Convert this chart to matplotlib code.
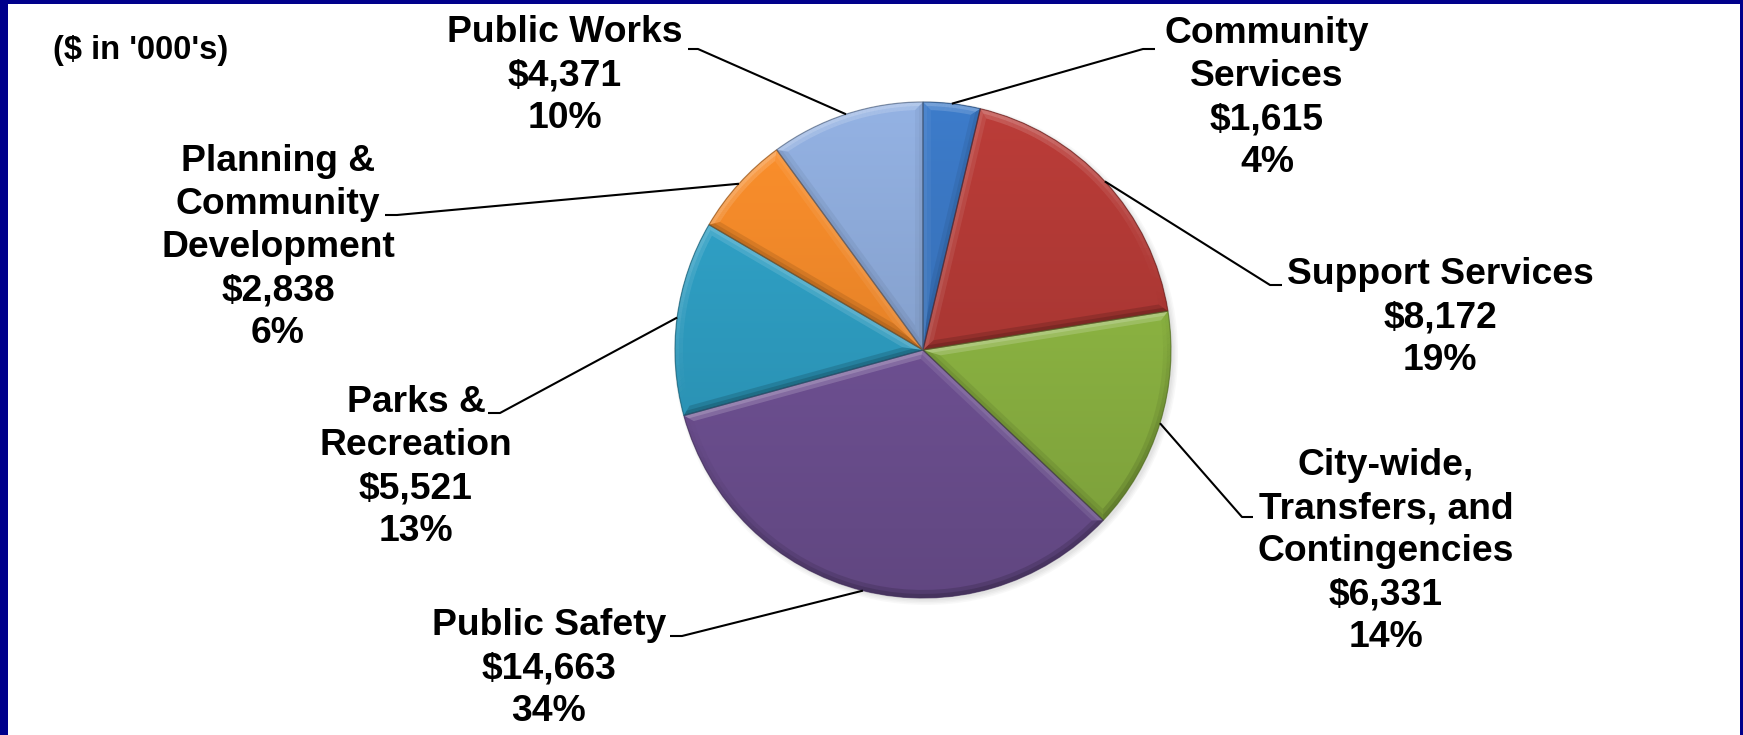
import numpy as np
import matplotlib
matplotlib.use("Agg")
import matplotlib.pyplot as plt
from matplotlib.patches import Wedge, Circle, Rectangle
from matplotlib.collections import PolyCollection
from matplotlib.colors import to_rgb

# ---- data -------------------------------------------------------------
categories = [
    "Community\nServices",
    "Support Services",
    "City-wide,\nTransfers, and\nContingencies",
    "Public Safety",
    "Parks &\nRecreation",
    "Planning &\nCommunity\nDevelopment",
    "Public Works",
]
amounts = [1615, 8172, 6331, 14663, 5521, 2838, 4371]   # $ in '000's
pct_labels = ["4%", "19%", "14%", "34%", "13%", "6%", "10%"]
colors = ["#3A76C1", "#B33A36", "#90B944", "#735499", "#2FA0C5", "#F38A2A", "#8DAAD9"]
unit_note = "($ in '000's)"

# ---- layout (pixel space, y measured from the top) ----------------------
W, H = 1743, 735
CX, CY_TOP, R = 923, 350, 248
LINE_STEP = 43
# label centre x, first baseline y, leader start x, elbow x, leader y
label_layout = [
    (1267, 43, 1155, 1143, 49),
    (1440, 284, 1282, 1270, 285),
    (1386, 475, 1253, 1242, 517),
    (549, 635, 670, 682, 636),
    (416, 412, 488, 500, 413),
    (278, 171, 385, 397, 215),
    (565, 42, 688, 698, 49),
]

FONT = "Liberation Sans"
LABEL_SIZE = 26.8
NAVY = "#00008B"
LIGHT = np.array([-0.25, 1.0]) / np.hypot(0.25, 1.0)   # light from above, slightly left

fig = plt.figure(figsize=(W / 100, H / 100), dpi=100)
fig.patch.set_facecolor("white")
ax = fig.add_axes([0, 0, 1, 1])

cx, cy = CX, H - CY_TOP

# soft drop shadow below the pie
for k, a in enumerate([0.05, 0.05, 0.06, 0.07]):
    ax.add_patch(Circle((cx + 3, cy - 3), R + 4 - k * 1.5, facecolor="#808080",
                        edgecolor="none", alpha=a, zorder=1))

wedges, _ = ax.pie(amounts, colors=colors, startangle=90, counterclock=False,
                   center=(cx, cy), radius=R,
                   wedgeprops=dict(linewidth=0, edgecolor="none"), frame=True)


def unit(deg):
    a = np.deg2rad(deg)
    return np.array([np.cos(a), np.sin(a)])


def bevel_polys(w, d, m=36):
    """Quads of an inner band of width d along every edge of a slice,
    each with the outward normal of the edge it belongs to."""
    c = np.array(w.center)
    r, t1, t2 = w.r, w.theta1, w.theta2
    half = np.deg2rad(t2 - t1) / 2
    delta = np.rad2deg(np.arcsin(d / (r - d)))
    apex = c + unit((t1 + t2) / 2) * d / np.sin(half)
    i1 = c + (r - d) * unit(t1 + delta)
    i2 = c + (r - d) * unit(t2 - delta)
    o1 = c + r * unit(t1)
    o2 = c + r * unit(t2)
    polys = [[c, o1, i1, apex], [c, o2, i2, apex]]
    normals = [unit(t1 - 90), unit(t2 + 90)]
    oa = np.linspace(t1, t2, m + 1)
    ia = np.linspace(t1 + delta, t2 - delta, m + 1)
    for k in range(m):
        polys.append([c + r * unit(oa[k]), c + r * unit(oa[k + 1]),
                      c + (r - d) * unit(ia[k + 1]), c + (r - d) * unit(ia[k])])
        normals.append(unit((oa[k] + oa[k + 1]) / 2))
    return polys, np.array(normals)


n = 400
t = np.linspace(0, 1, n)[:, None]
for w, c in zip(wedges, colors):
    w.set_zorder(2)
    base = np.array(to_rgb(c))
    # gentle vertical shading, lighter at the top of the pie
    top = np.clip(base * 1.05, 0, 1)
    bot = base * 0.84
    grad = top[None, None, :] * (1 - t[..., None]) + bot[None, None, :] * t[..., None]
    grad = np.repeat(grad, 4, axis=1)
    im = ax.imshow(grad, extent=(cx - R, cx + R, cy - R, cy + R), origin="upper",
                   interpolation="bilinear", zorder=3, aspect="auto")
    im.set_clip_path(w)

    # soft bevel: two nested bands, lit on edges facing the light
    for d, strength in [(8, 0.5), (4, 0.5)]:
        polys, normals = bevel_polys(w, d)
        dots = normals @ LIGHT
        fc = np.zeros((len(polys), 4))
        lit = dots > 0
        fc[lit, :3] = 1.0
        fc[lit, 3] = 0.34 * strength * dots[lit]
        fc[~lit, :3] = 0.0
        fc[~lit, 3] = 0.28 * strength * (-dots[~lit])
        pc = PolyCollection(polys, facecolors=fc, edgecolors="none", linewidths=0,
                            zorder=4, antialiaseds=True)
        ax.add_collection(pc)
        pc.set_clip_path(w)

    edge = Wedge(w.center, w.r, w.theta1, w.theta2, facecolor="none",
                 edgecolor=tuple(base * 0.55), linewidth=0.9, alpha=0.6, zorder=5)
    ax.add_patch(edge)

# labels with leader lines
for w, name, amt, pct, lay in zip(wedges, categories, amounts, pct_labels, label_layout):
    lx, base_y, sx, ex, ly = lay
    lines = name.split("\n") + [f"${amt:,}", pct]
    for i, s in enumerate(lines):
        ax.text(lx, H - (base_y + i * LINE_STEP), s, ha="center", va="baseline",
                fontsize=LABEL_SIZE, fontweight="bold", family=FONT, color="black",
                zorder=6)
    mid = np.deg2rad((w.theta1 + w.theta2) / 2)
    px, py = cx + R * np.cos(mid), cy + R * np.sin(mid)
    ax.plot([sx, ex, px], [H - ly, H - ly, py], color="black", linewidth=1.5,
            solid_capstyle="butt", zorder=6)

ax.text(53, H - 59, unit_note, ha="left", va="baseline", fontsize=23.5,
        fontweight="bold", family=FONT, color="black")

ax.set_xlim(0, W)
ax.set_ylim(0, H)
ax.set_aspect("auto")
ax.axis("off")

# navy frame on the left, top and right sides
for (x0, y0, w_, h_) in [(0, 0, 8, H), (0, H - 4, W, 4), (W - 3, 0, 3, H)]:
    fig.patches.append(Rectangle((x0 / W, y0 / H), w_ / W, h_ / H,
                                 transform=fig.transFigure, facecolor=NAVY,
                                 edgecolor="none", zorder=10))

fig.savefig("out.png", dpi=100)
